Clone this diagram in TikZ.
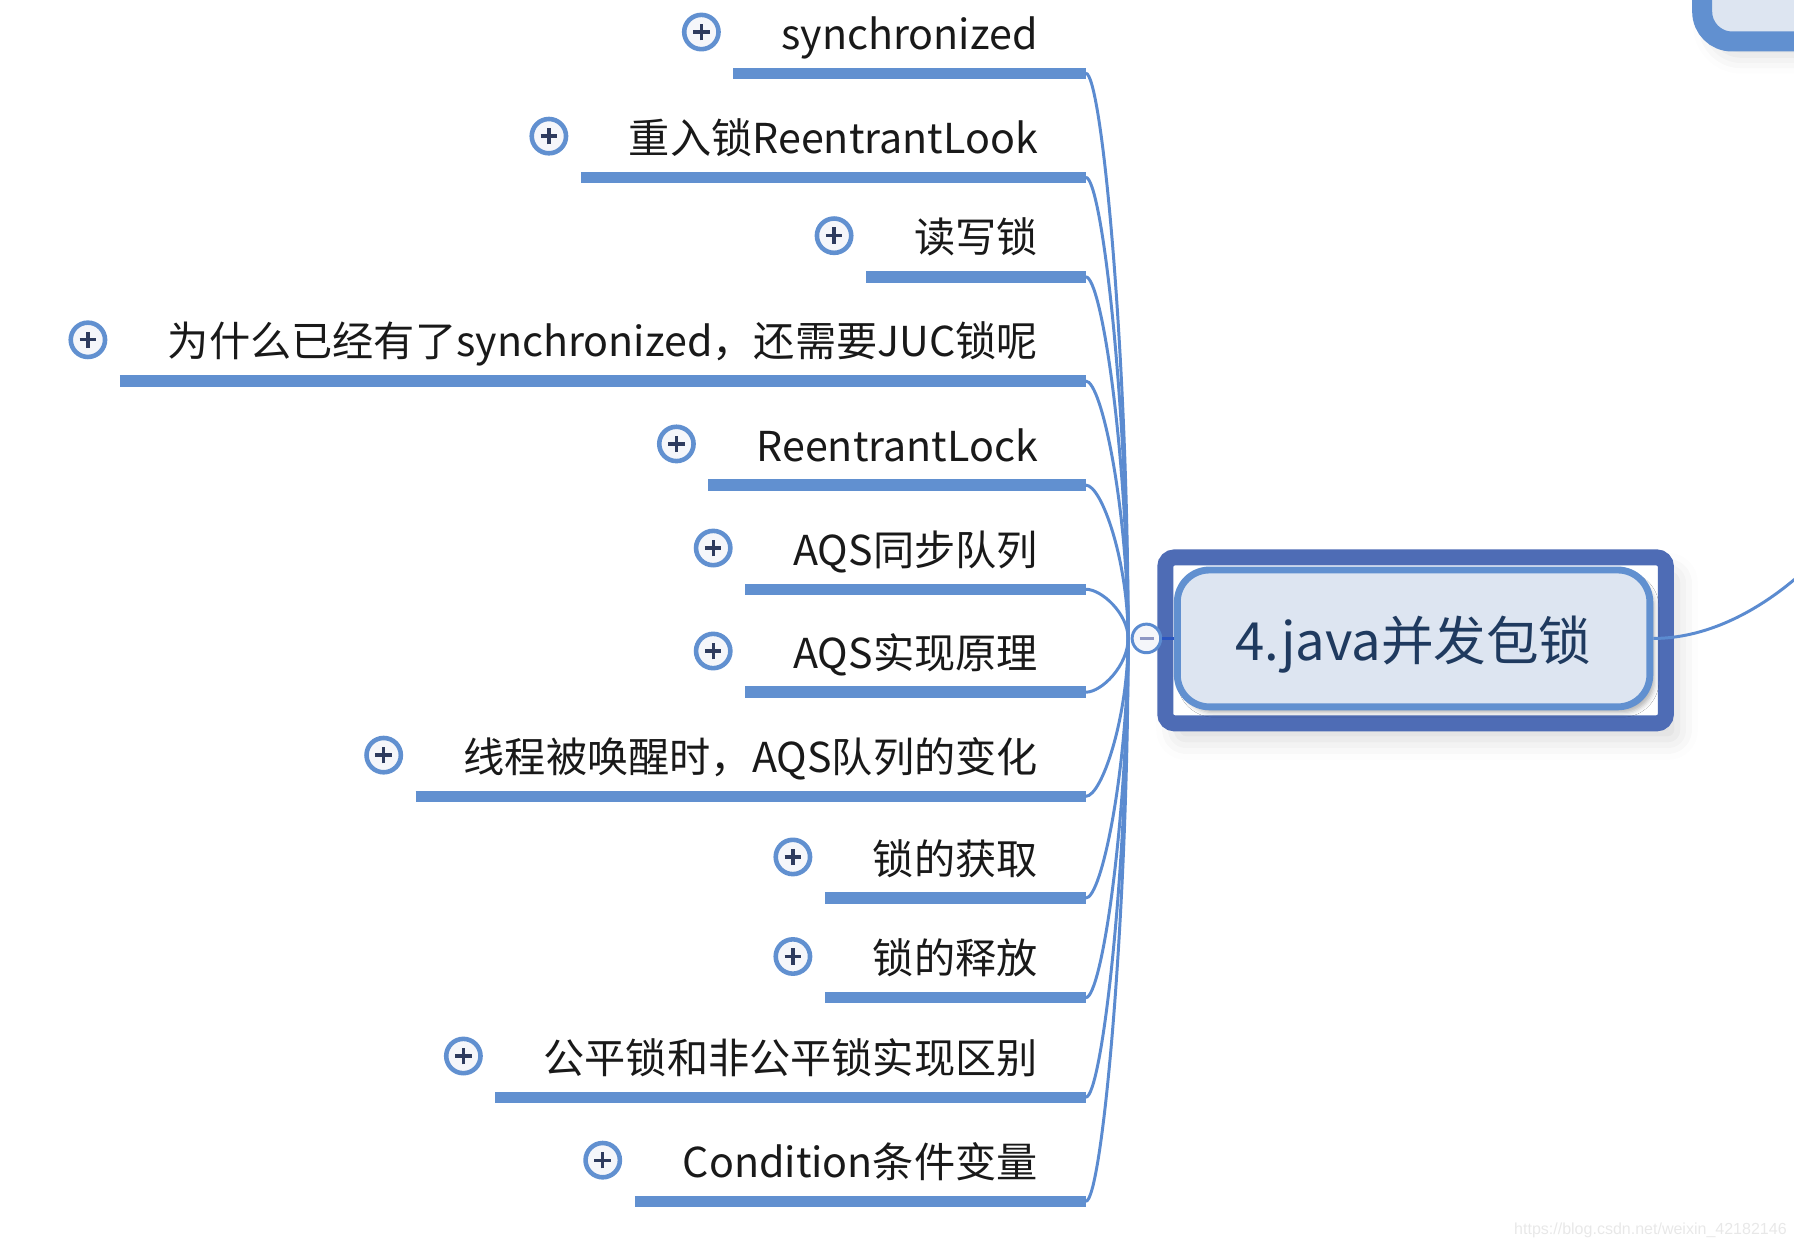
\documentclass[tikz,border=0pt]{standalone}
\usepackage{fontspec}
\usepackage{tikz}
\usetikzlibrary{calc,backgrounds,shadows.blur}
\newfontfamily\cjk{Noto Sans CJK SC}
\newfontfamily\wmfont{Liberation Sans}
\definecolor{linkblue}{HTML}{5B8BD0}
\definecolor{barblue}{HTML}{6190D0}
\definecolor{boxfill}{HTML}{DDE5F1}
\definecolor{frameblue}{HTML}{4E6CB5}
\definecolor{plusnavy}{HTML}{2E3B5E}
\definecolor{rootnavy}{HTML}{1F3A5F}
\definecolor{minusgray}{HTML}{8E97C4}
\definecolor{hubblue}{HTML}{2B55C0}
\definecolor{knobfill}{HTML}{F5F6FA}

\begin{document}
\begin{tikzpicture}[x=0.5pt, y=-0.5pt]
            \tikzstyle{branch}=[font=\cjk\fontsize{18}{20}\selectfont, text=black!90, inner xsep=21pt, inner ysep=0pt, text depth=10.5pt, outer sep=0pt, anchor=south east];
            \tikzstyle{underbar}=[draw=barblue, line width=5pt];
            \tikzstyle{link}=[draw=linkblue, line width=1.3pt];
            \tikzstyle{plusknob}=[draw=barblue, circle, line width=2pt, fill=knobfill, minimum size=15pt, inner sep=0pt,
                path picture={\draw[plusnavy, line width=1.45pt]
                    ([xshift=-3.6pt]path picture bounding box.center) -- ([xshift=3.6pt]path picture bounding box.center)
                    ([yshift=-3.6pt]path picture bounding box.center) -- ([yshift=3.6pt]path picture bounding box.center);}];
            \tikzstyle{foldknob}=[draw=linkblue, circle, line width=1.3pt, fill=knobfill, minimum size=12.5pt, inner sep=0pt,
                path picture={\draw[minusgray, line width=1.5pt]
                    ([xshift=-3pt]path picture bounding box.center) -- ([xshift=3.5pt]path picture bounding box.center);}];
            \tikzstyle{rootbox}=[draw=barblue, line width=3pt, fill=boxfill, rounded corners=14pt, minimum width=206.5pt, minimum height=59.8pt,
                font=\cjk\fontsize{23}{26}\selectfont, text=rootnavy, text depth=0pt,
                blur shadow={shadow xshift=2pt, shadow yshift=-2.5pt, shadow blur radius=2pt, shadow opacity=30}];
            \tikzstyle{rootframe}=[draw=frameblue, line width=7pt, fill=white, rounded corners=4pt,
                blur shadow={shadow xshift=5pt, shadow yshift=-7pt, shadow blur radius=9pt, shadow opacity=15}];
            \tikzstyle{parentbox}=[draw=barblue, line width=8.75pt, fill=boxfill, rounded corners=13pt, minimum width=200pt, minimum height=100pt,
                blur shadow={shadow xshift=4pt, shadow yshift=-6pt, shadow blur radius=8pt, shadow opacity=15}];
            \tikzstyle{watermark}=[font=\wmfont\fontsize{7}{8}\selectfont, text=black!9, inner sep=0pt];

            \useasboundingbox (0,0) rectangle (1568,1091);

            % central topic and its parent
            \node[rootbox] (root) at (1235.5,558) {4.java并发包锁};
            \begin{scope}[on background layer]
                \node[parentbox, anchor=south west] (parent) at (1479,45) {};
                \draw[rootframe] ([shift={(-7.5,-8)}]root.north west) rectangle ([shift={(11,11.4)}]root.south east);
            \end{scope}
            \coordinate (up) at (1600,475);
            \draw[link] (root.east) .. controls +(70,0) and +(-25,30) .. (up);

            % subtopics
            \node[branch] (sync) at (949,64) {synchronized};
            \node[branch] (relock) at (949,155) {重入锁ReentrantLook};
            \node[branch] (rwlock) at (949,242) {读写锁};
            \node[branch] (why) at (949,333) {为什么已经有了synchronized，还需要JUC锁呢};
            \node[branch] (rlock) at (949,424) {ReentrantLock};
            \node[branch] (aqsq) at (949,515) {AQS同步队列};
            \node[branch] (aqsimpl) at (949,605) {AQS实现原理};
            \node[branch] (wake) at (949,696) {线程被唤醒时，AQS队列的变化};
            \node[branch] (acquire) at (949,785) {锁的获取};
            \node[branch] (release) at (949,872) {锁的释放};
            \node[branch] (fair) at (949,959) {公平锁和非公平锁实现区别};
            \node[branch] (cond) at (949,1050) {Condition条件变量};

            \coordinate (hub) at (986,558);
            \foreach \lbl in {sync,relock,rwlock,why,rlock,aqsq,aqsimpl,wake,acquire,release,fair,cond} {
                \draw[underbar] (\lbl.south west) -- (\lbl.south east);
                \node[plusknob] (p-\lbl) at ([xshift=-14pt,yshift=18pt]\lbl.south west) {};
                \draw[link] (\lbl.south east) .. controls +(14,0) and ($(hub)!0.5!(hub |- \lbl.south east)$) .. (hub);
            }

            \node[foldknob] (fold) at ([xshift=8pt]hub) {};
            \draw[hubblue, line width=1.3pt] (fold.east) -- (root.west);

            \node[watermark, anchor=east] (wm) at (1562,1075) {https://blog.csdn.net/weixin\_42182146};
        \end{tikzpicture}
\end{document}
